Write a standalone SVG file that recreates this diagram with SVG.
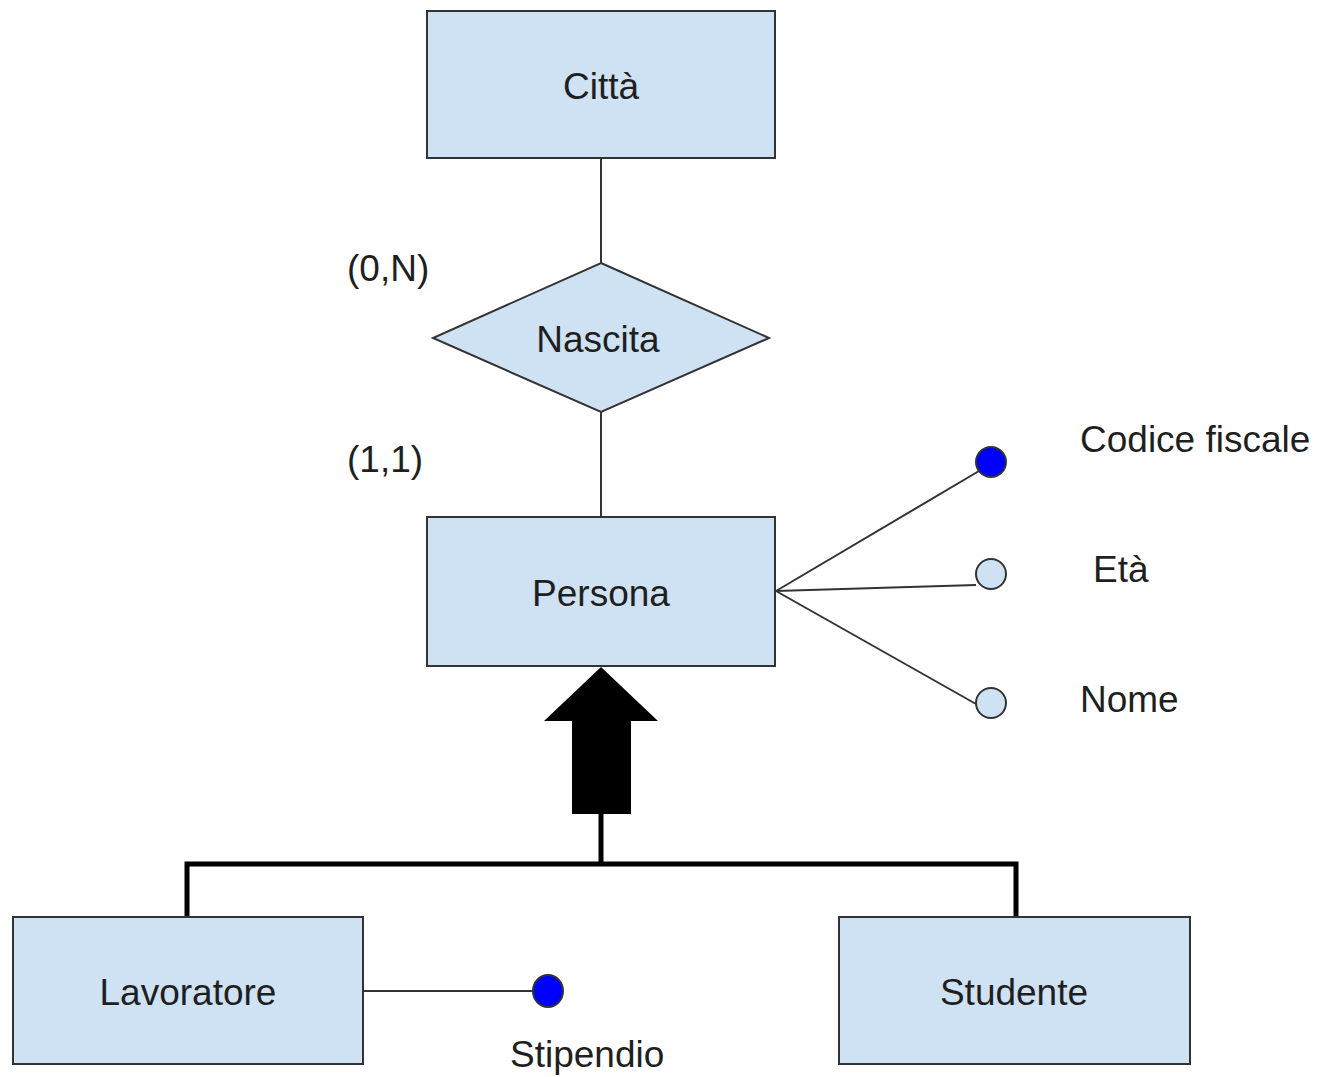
<svg xmlns="http://www.w3.org/2000/svg" width="1319" height="1077" viewBox="0 0 1319 1077">
<style>
  .ent { fill: #cfe2f3; stroke: #333333; stroke-width: 2; }
  .lbl { font-family: "Liberation Sans", Arial, sans-serif; font-size: 37px; fill: #1f1f1f; }
  .mid { text-anchor: middle; }
  .ln { stroke: #333333; stroke-width: 2; fill: none; }
  .attr { fill: #cfe2f3; stroke: #333333; stroke-width: 2; }
  .key { fill: #0000ff; stroke: #333333; stroke-width: 2; }
  .isa { stroke: #000000; stroke-width: 5; fill: none; }
</style>
<rect width="1319" height="1077" fill="#ffffff"/>
<g id="connectors">
  <line class="ln" x1="601" y1="158" x2="601" y2="263"/>
  <line class="ln" x1="601" y1="412" x2="601" y2="517"/>
  <line class="ln" x1="776" y1="591" x2="979" y2="471"/>
  <line class="ln" x1="776" y1="591" x2="976" y2="585"/>
  <line class="ln" x1="776" y1="591" x2="976" y2="704"/>
  <line class="ln" x1="363" y1="991" x2="533" y2="991"/>
  <polyline class="isa" points="187,917 187,864 1016,864 1016,917"/>
  <line class="isa" x1="601" y1="864" x2="601" y2="810"/>
  <polygon points="601,667 544,721 572,721 572,814 631,814 631,721 658,721" fill="#000000"/>
</g>
<g id="citta">
  <rect class="ent" x="427" y="11" width="348" height="147"/>
  <text class="lbl mid" x="601" y="99">Città</text>
</g>
<g id="nascita">
  <polygon class="ent" points="601,263 769,338 601,412 433,338"/>
  <text class="lbl mid" x="598" y="352">Nascita</text>
</g>
<g id="card-0N">
  <text class="lbl" x="347" y="281">(0,N)</text>
</g>
<g id="card-11">
  <text class="lbl" x="347" y="472">(1,1)</text>
</g>
<g id="persona">
  <rect class="ent" x="427" y="517" width="348" height="149"/>
  <text class="lbl mid" x="601" y="606">Persona</text>
</g>
<g id="codice-fiscale">
  <circle class="key" cx="991" cy="462" r="15"/>
  <text class="lbl" x="1080" y="452">Codice fiscale</text>
</g>
<g id="eta">
  <circle class="attr" cx="991" cy="574" r="15"/>
  <text class="lbl" x="1093" y="582">Età</text>
</g>
<g id="nome">
  <circle class="attr" cx="991" cy="703" r="15"/>
  <text class="lbl" x="1080" y="712">Nome</text>
</g>
<g id="lavoratore">
  <rect class="ent" x="13" y="917" width="350" height="147"/>
  <text class="lbl mid" x="188" y="1005">Lavoratore</text>
</g>
<g id="stipendio">
  <ellipse class="key" cx="548" cy="991" rx="15" ry="16"/>
  <text class="lbl" x="510" y="1067">Stipendio</text>
</g>
<g id="studente">
  <rect class="ent" x="839" y="917" width="351" height="147"/>
  <text class="lbl mid" x="1014" y="1005">Studente</text>
</g>
</svg>
